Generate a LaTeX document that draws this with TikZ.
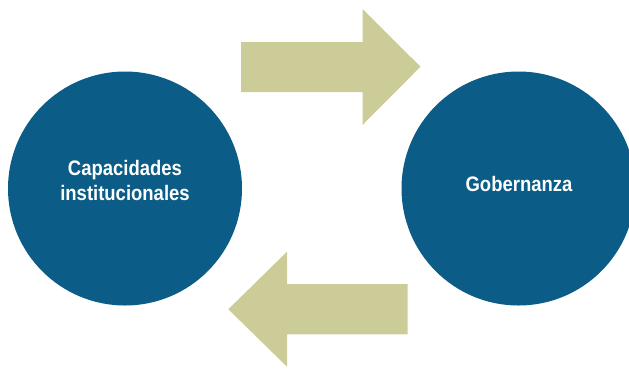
\documentclass[tikz,border=0pt]{standalone}
\usepackage{fontspec}
\setmainfont{Liberation Sans}[FakeStretch=0.88]
\definecolor{circblue}{RGB}{11,92,135}
\definecolor{arrowtan}{RGB}{204,204,153}
\begin{document}
\begin{tikzpicture}[x=1pt,y=-1pt,
  circ/.style={circle,fill=circblue,draw=none,minimum size=234pt,inner sep=0pt},
  lab/.style={text=white,font=\fontsize{21}{25}\selectfont\bfseries,anchor=base,inner sep=0pt},
  arr/.style={fill=arrowtan,draw=none}]
\useasboundingbox (0,0) rectangle (629,368);
\clip (0,0) rectangle (629,368);
\node[circ] (left) at (125,188.5) {};
\node[circ] (right) at (518.5,188.5) {};
\node[lab] (l1) at (125,175) {Capacidades};
\node[lab] (l2) at (125,200) {institucionales};
\node[lab] (r1) at (519,191.5) {Gobernanza};
\fill[arr] (241,42) -- (362.5,42) -- (362.5,9) -- (420.5,66.7) -- (362.5,125) -- (362.5,92) -- (241,92) -- cycle;
\fill[arr] (407.7,284) -- (287,284) -- (287,251.7) -- (228.3,309.3) -- (287,366.7) -- (287,334.3) -- (407.7,334.3) -- cycle;
\end{tikzpicture}
\end{document}
